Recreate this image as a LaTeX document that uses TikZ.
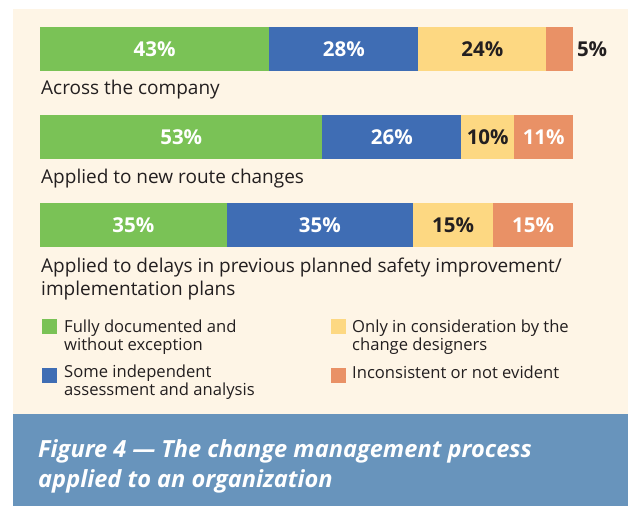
\documentclass[tikz,border=0pt]{standalone}
\usepackage{fontspec}
\setmainfont{Open Sans}
\usetikzlibrary{positioning}
\definecolor{fullgreen}{HTML}{7AC256}
\definecolor{someblue}{HTML}{3F6DB4}
\definecolor{onlyyellow}{HTML}{FDD882}
\definecolor{notorange}{HTML}{E99166}
\definecolor{cream}{HTML}{FEF5E6}
\definecolor{banner}{HTML}{6894BC}
\definecolor{ink}{HTML}{231F20}
\begin{document}
\begin{tikzpicture}[x=1pt,y=-1pt,
	seg/.style={minimum width={#1*5.33pt}, minimum height=44pt, inner sep=0pt, outer sep=0pt,
		font=\fontsize{20.5}{20.5}\selectfont\bfseries, text=white},
	lbl/.style={inner sep=0pt, text=ink, align=left, font=\fontsize{19}{23}\selectfont},
	key/.style={minimum size=15pt, inner sep=0pt, outer sep=0pt},
	keytxt/.style={inner sep=0pt, text=ink, align=left, font=\fontsize{16.6}{18}\selectfont}]
				\useasboundingbox (0,0) rectangle (628,506);
				\fill[cream] (13,9) rectangle (628,414);
				\fill[banner] (13,414) rectangle (628,506);
				
				% across the company
				\node[seg=43, fill=fullgreen, anchor=north west] (c1) at (40,27) {43\%};
				\node[seg=28, fill=someblue, right=0pt of c1] (c2) {28\%};
				\node[seg=24, fill=onlyyellow, text=ink, right=0pt of c2] (c3) {24\%};
				\node[seg=5, fill=notorange, right=0pt of c3] (c4) {};
				\node[seg=0, text=ink, anchor=west, right=4pt of c4] (c5) {5\%};
				\node[lbl, anchor=base west] (clbl) at (41,94) {Across the company};
				
				% new route changes
				\node[seg=53, fill=fullgreen, anchor=north west] (r1) at (40,115) {53\%};
				\node[seg=26, fill=someblue, right=0pt of r1] (r2) {26\%};
				\node[seg=10, fill=onlyyellow, text=ink, right=0pt of r2] (r3) {10\%};
				\node[seg=11, fill=notorange, right=0pt of r3] (r4) {11\%};
				\node[lbl, anchor=base west] (rlbl) at (41,183) {Applied to new route changes};
				
				% delays (base is the last line)
				\node[seg=35, fill=fullgreen, anchor=north west] (d1) at (40,203) {35\%};
				\node[seg=35, fill=someblue, right=0pt of d1] (d2) {35\%};
				\node[seg=15, fill=onlyyellow, text=ink, right=0pt of d2] (d3) {15\%};
				\node[seg=15, fill=notorange, right=0pt of d3] (d4) {15\%};
				\node[lbl, anchor=base west] (dlbl) at (41,295) {Applied to delays in previous planned safety improvement/\\implementation plans};
				
				% legend
				\node[key, fill=fullgreen] (kfull) at (49,326.5) {};
				\node[key, fill=someblue] (ksome) at (49,375.5) {};
				\node[key, fill=onlyyellow] (konly) at (338,326.5) {};
				\node[key, fill=notorange] (knot) at (338,375.5) {};
				\node[keytxt, anchor=base west] (tfull) at (64,350) {Fully documented and\\without exception};
				\node[keytxt, anchor=base west] (tsome) at (64,395) {Some independent\\assessment and analysis};
				\node[keytxt, anchor=base west] (tonly) at (352,350) {Only in consideration by the\\change designers};
				\node[keytxt, anchor=base west] (tnot) at (352,378) {Inconsistent or not evident};
				
				% caption
				\node[inner sep=0pt, text=white, align=left, anchor=base west,
					font=\fontsize{23.6}{30}\selectfont\bfseries\itshape] (cap) at (38,487)
					{Figure 4 --- The change management process\\applied to an organization};
\end{tikzpicture}
\end{document}
